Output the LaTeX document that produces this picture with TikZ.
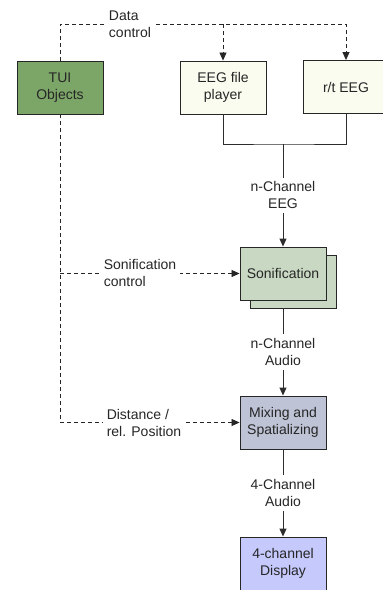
\documentclass[tikz,border=0pt]{standalone}
\usepackage{fontspec}
\setmainfont{Liberation Sans}
\usetikzlibrary{arrows.meta, positioning, calc}
\definecolor{tuigreen}{RGB}{124, 166, 104}
\definecolor{sonigreen}{RGB}{200, 216, 194}
\definecolor{mixblue}{RGB}{190, 196, 214}
\definecolor{displayblue}{RGB}{197, 201, 252}
\definecolor{playerwhite}{RGB}{250, 252, 240}
\definecolor{linegray}{RGB}{45, 45, 45}

\begin{document}
\begin{tikzpicture}[
    x=1pt, y=-1pt,
    every node/.style={font=\fontsize{14}{17}\selectfont, text=black!85},
    block/.style={draw=black!85, line width=0.9pt, minimum width=86pt,
        minimum height=53pt, align=center, inner sep=2pt},
    flow/.style={draw=linegray, line width=0.9pt},
    ctrl/.style={draw=black!85, line width=0.8pt, dash pattern=on 4pt off 3pt},
    tip/.style={-{Triangle[width=7pt, length=8pt]}},
    lbl/.style={fill=white, align=center, inner sep=4pt},
    sidelbl/.style={fill=white, align=left, inner sep=4pt}
]
\useasboundingbox (0,0) rectangle (383,590);

% =============================================
% Blocks
% =============================================
\node[block, fill=tuigreen] (tui) at (60, 87.5) {TUI\\Objects};
\node[block, fill=playerwhite] (player) at (223, 87.5) {EEG file\\player};
\node[block, fill=playerwhite] (rt) at (346, 87) {r/t EEG};

% Sonification (stacked)
\node[block, fill=sonigreen] (sonishadow) at (293.5, 281.5) {};
\node[block, fill=sonigreen] (soni) at (283, 273.5) {Sonification};

\node[block, fill=mixblue] (mix) at (283, 422.5) {Mixing and\\Spatializing};
\node[block, fill=displayblue] (display) at (283, 563.5) {4-channel\\Display};

% =============================================
% Data path
% =============================================
\coordinate (merge) at (283, 144);
\draw[flow] (player.south) |- (merge) -| (rt.south);
\draw[flow, tip] (merge) -- node[lbl] {n-Channel\\EEG} (soni.north);
\draw[flow, tip] (soni.south |- sonishadow.south)
    -- node[lbl] {n-Channel\\Audio} (mix.north);
\draw[flow, tip] (mix.south) -- node[lbl] {4-Channel\\Audio} (display.north);

% =============================================
% Control paths (dashed)
% =============================================
\coordinate (datarail) at (0, 24);
\draw[ctrl, tip] (tui.north) |- (datarail -| rt.north) -- (rt.north);
\draw[ctrl, tip] (datarail -| player.north) -- (player.north);
\node[sidelbl] (datalbl) at (130, 24) {Data\\control};

\draw[ctrl, tip] (tui.south) |- (mix.west);
\draw[ctrl, tip] (tui.south |- soni.west) -- (soni.west);
\node[sidelbl] (sonilbl) at (140, 273) {Sonification\\control};
\node[sidelbl] (mixlbl) at (144, 423) {Distance /\\rel. Position};

\end{tikzpicture}
\end{document}
